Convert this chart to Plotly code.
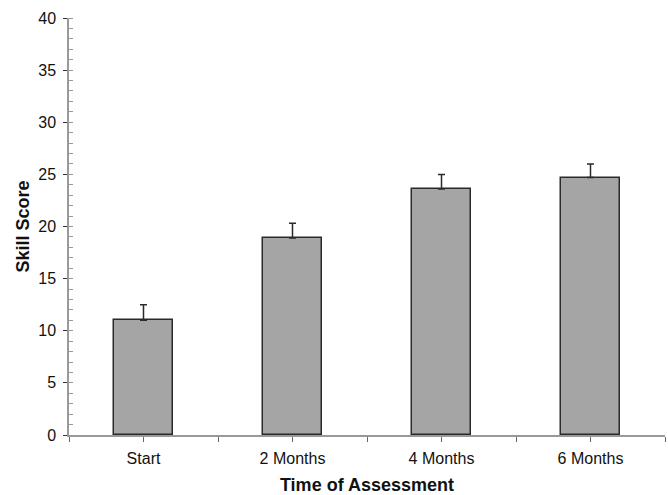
import plotly.graph_objects as go

categories = ["Start", "2 Months", "4 Months", "6 Months"]
scores = [11.0, 18.9, 23.6, 24.7]
errors = [1.5, 1.4, 1.4, 1.3]
y_ticks = [0, 5, 10, 15, 20, 25, 30, 35, 40]

xpos = list(range(len(categories)))
tickvals = []
ticktext = []
for i, c in enumerate(categories):
    tickvals += [i - 0.5, i]
    ticktext += ["", c]
tickvals.append(len(categories) - 0.5)
ticktext.append("")

fig = go.Figure(go.Bar(
    x=xpos, y=scores, width=0.4,
    marker=dict(color="#a5a5a5", line=dict(color="#2a2a2a", width=1.5)),
    error_y=dict(type="data", symmetric=False, array=errors,
                 arrayminus=[0] * len(errors), color="#2a2a2a",
                 thickness=1.5, width=3.5),
))

font_family = "Liberation Sans, Arial, Helvetica, sans-serif"
fig.update_layout(
    width=668, height=495,
    margin=dict(l=69, r=3, t=18, b=60),
    plot_bgcolor="white", paper_bgcolor="white",
    font=dict(family=font_family, size=16, color="#111"),
    showlegend=False,
    bargap=0,
    annotations=[dict(
        text="<b>Skill Score</b>", textangle=-90,
        xref="paper", yref="paper", x=0, y=0.5, xshift=-47,
        xanchor="center", yanchor="middle", showarrow=False,
        font=dict(size=18),
    )],
)
fig.update_xaxes(
    automargin=False,
    range=[-0.5, len(categories) - 0.5],
    tickmode="array", tickvals=tickvals, ticktext=ticktext,
    ticks="outside", ticklen=5, tickcolor="#666", tickwidth=1,
    ticklabelstandoff=3,
    showline=True, linecolor="#999", linewidth=1.5,
    showgrid=False, zeroline=False,
    tickfont=dict(size=16),
    title=dict(text="<b>Time of Assessment</b>", font=dict(size=18)),
)
fig.update_yaxes(
    automargin=False,
    range=[0, 40],
    tickmode="array", tickvals=y_ticks,
    ticks="outside", ticklen=4, tickcolor="#333", tickwidth=1,
    ticklabelstandoff=4,
    minor=dict(dtick=1, ticks="inside", ticklen=4, tickcolor="#999", tickwidth=1, showgrid=False),
    showline=True, linecolor="#999", linewidth=1.5,
    showgrid=False, zeroline=False,
    tickfont=dict(size=16),
)

fig.write_html(
    "out.html",
    config={"displayModeBar": False},
    post_script="document.body.style.margin='0';document.body.style.padding='0';",
)
